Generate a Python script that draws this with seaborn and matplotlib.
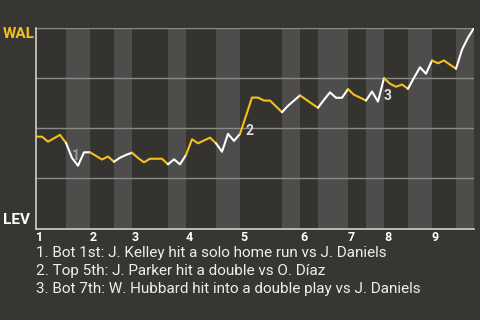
import numpy as np
import pandas as pd
import matplotlib
matplotlib.use("Agg")
import matplotlib.pyplot as plt
import seaborn as sns

# ---- data ----
half_lengths = [5, 4, 4, 3, 6, 3, 5, 4, 7, 3, 3, 5, 3, 3, 4, 4, 4, 3]
wal_wp = [45.8, 45.8, 43.3, 45.0, 46.7, 42.7, 35.2, 31.3, 38.0, 38.0,
          36.2, 34.4, 35.9, 33.3, 35.3, 36.7, 37.8, 35.2, 33.0, 34.8,
          34.8, 34.8, 32.0, 34.5, 32.0, 36.7, 44.5, 42.5, 43.9, 45.3,
          42.5, 38.3, 47.2, 43.7, 47.2, 56.2, 65.3, 65.3, 63.8, 63.8,
          60.9, 58.0, 61.2, 63.8, 66.4, 64.3, 62.2, 60.2, 64.2, 67.9,
          65.2, 65.2, 69.5, 66.7, 65.3, 63.8, 68.3, 63.3, 75.0, 72.2,
          70.7, 71.8, 69.7, 75.2, 80.4, 77.2, 83.8, 82.4, 83.8, 81.7,
          79.7, 89.2, 95.2, 100.0]
inning_labels = ["1", "2", "3", "4", "5", "6", "7", "8", "9"]
event_plays = [6, 35, 58]
event_labels = ["1", "2", "3"]
notes = [
    "1. Bot 1st: J. Kelley hit a solo home run vs J. Daniels",
    "2. Top 5th: J. Parker hit a double vs O. Díaz",
    "3. Bot 7th: W. Hubbard hit into a double play vs J. Daniels",
]
away_team = "WAL"
home_team = "LEV"

# ---- style ----
BG = "#383632"
PLOT_BG = "#35332f"
BAND = "#4e4d4b"
GRID = "#8a8a8a"
YELLOW = "#f4c020"
WHITE = "#ffffff"

sns.set_theme(style="dark")
plt.rcParams["font.family"] = ["Roboto", "DejaVu Sans"]

fig = plt.figure(figsize=(4.8, 3.2), dpi=100, facecolor=BG)
ax = fig.add_axes([36 / 480, 1 - 228.5 / 320, 438 / 480, 200.5 / 320])
ax.set_facecolor(PLOT_BG)

edges = np.concatenate([[0], np.cumsum(half_lengths)])
n = edges[-1]

# bottom-half bands
for h in range(len(half_lengths)):
    if h % 2 == 1:
        ax.axvspan(edges[h], edges[h + 1], color=BAND, lw=0, zorder=0)

# grid lines
for g in [25, 50, 75, 100]:
    ax.axhline(g, color=GRID, lw=1, zorder=1)

df = pd.DataFrame({"play": np.arange(len(wal_wp)), "wp": wal_wp})
for h in range(len(half_lengths)):
    seg = df.iloc[edges[h]:edges[h + 1] + 1]
    sns.lineplot(data=seg, x="play", y="wp", ax=ax, estimator=None, sort=False,
                 color=YELLOW if h % 2 == 0 else WHITE, lw=1.5, zorder=3)

# event annotations
label_colors = ["#9a9a9a", "#dddddd", "#dddddd"]
for k, lab, c in zip(event_plays, event_labels, label_colors):
    yv = (wal_wp[k - 1] + wal_wp[k]) / 2 - 3
    ax.text(k, yv, lab, color=c, fontsize=10, fontweight="bold",
            ha="left", va="center", zorder=2)

ax.set_xlim(0, n)
ax.set_ylim(0, 100)
ax.set_xlabel("")
ax.set_ylabel("")
ax.set_yticks([])
ax.set_xticks(edges[0::2][:len(inning_labels)])
ax.set_xticklabels(inning_labels, color="white", fontsize=9, fontweight="bold", ha="left")
ax.tick_params(axis="x", length=0, pad=2)
for s in ["top", "right"]:
    ax.spines[s].set_visible(False)
for s in ["left", "bottom"]:
    ax.spines[s].set_visible(True)
    ax.spines[s].set_color("#cfcfcf")
    ax.spines[s].set_linewidth(1.2)
ax.grid(False)

fig.text(3 / 480, 1 - 33.5 / 320, away_team, color=YELLOW, fontsize=11,
         fontweight="bold", ha="left", va="center")
fig.text(3 / 480, 1 - 219.5 / 320, home_team, color="white", fontsize=11,
         fontweight="bold", ha="left", va="center")

for i, t in enumerate(notes):
    fig.text(36.5 / 480, 1 - (253 + 18 * i) / 320, t, color="#eeeeee",
             fontsize=11, ha="left", va="center")

fig.savefig("out.png", dpi=100, facecolor=BG)
